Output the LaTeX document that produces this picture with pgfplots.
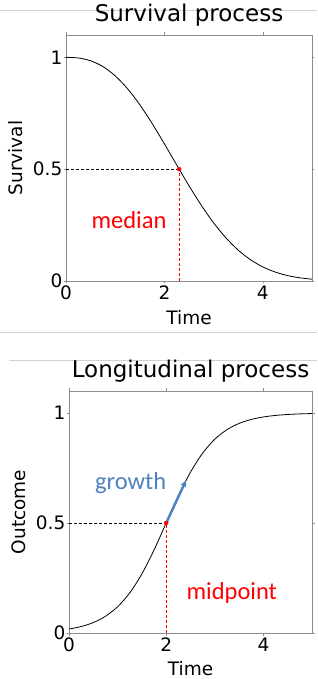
\documentclass[border=0pt]{standalone}
\usepackage{fontspec}
\setmainfont{DejaVu Sans}
\newfontfamily\carlito{Carlito}
\usepackage{pgfplots}
\pgfplotsset{compat=1.18}
\usetikzlibrary{arrows.meta}
\definecolor{axgray}{HTML}{8C8C8C}
\definecolor{sepgray}{HTML}{D0D0D0}
\definecolor{growthblue}{HTML}{4F81BD}
\definecolor{redc}{HTML}{FF0000}
\pgfplotsset{
  panel/.style={
    scale only axis,
    xmin=0, xmax=5, ymin=0, ymax=1.1,
    xtick={0,2,4}, ytick={0,0.5,1},
    yticklabels={0,0.5,1},
    tick align=outside,
    major tick length=2.5pt,
    tick style={axgray, line width=0.6pt},
    axis line style={axgray, line width=0.8pt},
    /pgf/number format/assume math mode=true,
    tick label style={font=\fontsize{18.5}{20}\selectfont},
    label style={font=\fontsize{18.5}{20}\selectfont},
    yticklabel style={inner sep=1pt},
    xticklabel style={inner sep=1pt, yshift=-1pt},
    title style={at={(0.5,1)}, anchor=base, yshift=7pt, font=\fontsize{23}{26}\selectfont},
    xlabel style={at={(axis description cs:0.5,-0.175)}, anchor=base},
    ylabel style={at={(axis description cs:-0.177,0.5)}, anchor=base},
    clip=false,
  }
}
\pgfplotstableread{
t s
0 1.0000
0.25 0.9973
0.5 0.9848
0.75 0.9588
1 0.9172
1.25 0.8599
1.5 0.7881
1.75 0.7046
2 0.6134
2.25 0.5188
2.5 0.4258
2.75 0.3384
3 0.2600
3.25 0.1930
3.5 0.1380
3.75 0.0951
4 0.0630
4.25 0.0401
4.5 0.0244
4.75 0.0143
5 0.0080
}\survival
\pgfplotstableread{
t y
0 0.0180
0.25 0.0293
0.5 0.0474
0.75 0.0759
1 0.1192
1.25 0.1824
1.5 0.2689
1.75 0.3775
2 0.5000
2.25 0.6225
2.5 0.7311
2.75 0.8176
3 0.8808
3.25 0.9241
3.5 0.9526
3.75 0.9707
4 0.9820
4.25 0.9890
4.5 0.9933
4.75 0.9959
5 0.9975
}\longit
\begin{document}
\begin{tikzpicture}
\useasboundingbox (0,0) rectangle (317pt,679pt);
\draw[sepgray, line width=0.8pt] (0pt,669pt) -- (317pt,669pt);
\draw[sepgray, line width=0.8pt] (0pt,346.5pt) -- (317pt,346.5pt);
\draw[sepgray, line width=0.8pt] (9pt,319pt) -- (317pt,319pt);
\begin{axis}[panel,
  at={(66pt,398pt)}, anchor=south west,
  width=246pt, height=246pt,
  title={Survival process}, xlabel={Time}, ylabel={Survival}]
\addplot[redc, dash pattern=on 3pt off 2pt, line width=1.1pt] coordinates {(2.3,0) (2.3,0.5)};
\addplot[black, line width=0.8pt, smooth] table[x=t, y=s] {\survival};
\addplot[black, dash pattern=on 3pt off 2pt, line width=0.9pt] coordinates {(0,0.5) (2.3,0.5)};
\addplot[redc, only marks, mark=*, mark size=2pt] coordinates {(2.3,0.5)};
\node[text=redc, font=\carlito\fontsize{24.5}{26}\selectfont] at (axis cs:1.28,0.272) {median};
\end{axis}
\begin{axis}[panel,
  at={(69pt,46pt)}, anchor=south west,
  width=243pt, height=242pt,
  title={Longitudinal process}, xlabel={Time}, ylabel={Outcome}]
\addplot[redc, dash pattern=on 3pt off 2pt, line width=1.1pt] coordinates {(2,0) (2,0.5)};
\addplot[black, line width=0.8pt, smooth] table[x=t, y=y] {\longit};
\addplot[black, dash pattern=on 3pt off 2pt, line width=0.9pt] coordinates {(0,0.5) (2,0.5)};
\addplot[redc, only marks, mark=*, mark size=2pt] coordinates {(2,0.5)};
\addplot[growthblue, line width=2.5pt, -{Stealth[length=7pt,width=6pt]}] coordinates {(2,0.5) (2.41,0.695)};
\node[text=growthblue, font=\carlito\fontsize{24.5}{26}\selectfont] at (axis cs:1.27,0.683) {growth};
\node[text=redc, font=\carlito\fontsize{24.5}{26}\selectfont] at (axis cs:3.35,0.18) {midpoint};
\end{axis}
\end{tikzpicture}
\end{document}
